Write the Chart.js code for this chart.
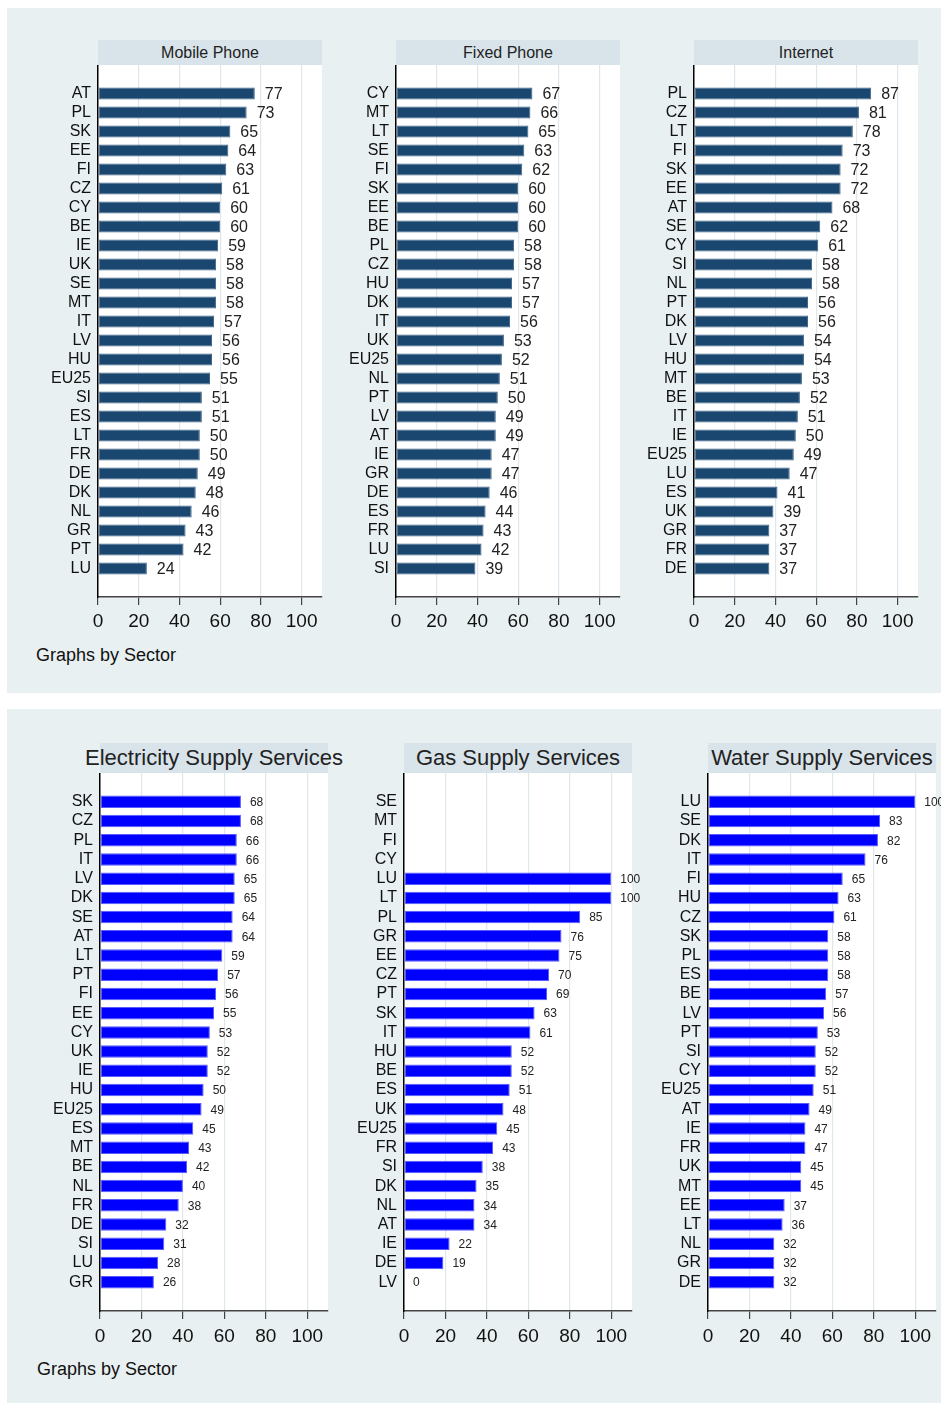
<!DOCTYPE html>
<html>
<head>
<meta charset="utf-8">
<script src="https://cdn.jsdelivr.net/npm/chart.js@4.4.1/dist/chart.umd.min.js"></script>
<style>
  body { margin: 0; width: 941px; height: 1403px; overflow: hidden; background: #fff; position: relative;
         font-family: "Liberation Sans", Arial, sans-serif; }
  .panel { position: absolute; left: 7px; width: 940px; background: #e9f0f2; }
  .head { position: absolute; background: #d9e4ea; color: #222; display: flex; justify-content: center;
          align-items: center; white-space: nowrap; }
  .foot { position: absolute; font-size: 18px; line-height: 18px; color: #111; }
  canvas { position: absolute; }
</style>
</head>
<body>
<div class="panel" style="top:8px;height:685px"></div>
<div class="panel" style="top:709px;height:694px"></div>

<div class="head" style="left:98px;top:40px;width:224px;height:25px;font-size:16px">Mobile Phone</div>
<div class="head" style="left:396px;top:40px;width:224px;height:25px;font-size:16px">Fixed Phone</div>
<div class="head" style="left:694px;top:40px;width:224px;height:25px;font-size:16px">Internet</div>
<div class="head" style="left:100px;top:743px;width:228px;height:30px;font-size:22px">Electricity Supply Services</div>
<div class="head" style="left:404px;top:743px;width:228px;height:30px;font-size:22px">Gas Supply Services</div>
<div class="head" style="left:708px;top:743px;width:228px;height:30px;font-size:22px">Water Supply Services</div>

<canvas id="mobile"></canvas>
<canvas id="fixed"></canvas>
<canvas id="internet"></canvas>
<canvas id="electricity"></canvas>
<canvas id="gas"></canvas>
<canvas id="water"></canvas>

<div class="foot" style="left:36px;top:646px">Graphs by Sector</div>
<div class="foot" style="left:37px;top:1360px">Graphs by Sector</div>

<script>
// data (top to bottom)
const mobileCountries = ['AT','PL','SK','EE','FI','CZ','CY','BE','IE','UK','SE','MT','IT','LV','HU','EU25','SI','ES','LT','FR','DE','DK','NL','GR','PT','LU'];
const mobileValues = [77,73,65,64,63,61,60,60,59,58,58,58,57,56,56,55,51,51,50,50,49,48,46,43,42,24];

const fixedCountries = ['CY','MT','LT','SE','FI','SK','EE','BE','PL','CZ','HU','DK','IT','UK','EU25','NL','PT','LV','AT','IE','GR','DE','ES','FR','LU','SI'];
const fixedValues = [67,66,65,63,62,60,60,60,58,58,57,57,56,53,52,51,50,49,49,47,47,46,44,43,42,39];

const internetCountries = ['PL','CZ','LT','FI','SK','EE','AT','SE','CY','SI','NL','PT','DK','LV','HU','MT','BE','IT','IE','EU25','LU','ES','UK','GR','FR','DE'];
const internetValues = [87,81,78,73,72,72,68,62,61,58,58,56,56,54,54,53,52,51,50,49,47,41,39,37,37,37];

const electricityCountries = ['SK','CZ','PL','IT','LV','DK','SE','AT','LT','PT','FI','EE','CY','UK','IE','HU','EU25','ES','MT','BE','NL','FR','DE','SI','LU','GR'];
const electricityValues = [68,68,66,66,65,65,64,64,59,57,56,55,53,52,52,50,49,45,43,42,40,38,32,31,28,26];

const gasCountries = ['SE','MT','FI','CY','LU','LT','PL','GR','EE','CZ','PT','SK','IT','HU','BE','ES','UK','EU25','FR','SI','DK','NL','AT','IE','DE','LV'];
const gasValues = [null,null,null,null,100,100,85,76,75,70,69,63,61,52,52,51,48,45,43,38,35,34,34,22,19,0];

const waterCountries = ['LU','SE','DK','IT','FI','HU','CZ','SK','PL','ES','BE','LV','PT','SI','CY','EU25','AT','IE','FR','UK','MT','EE','LT','NL','GR','DE'];
const waterValues = [100,83,82,76,65,63,61,58,58,58,57,56,53,52,52,51,49,47,47,45,45,37,36,32,32,32];

const xTicks = [0, 20, 40, 60, 80, 100];

const LABEL_W = 70;
const AXIS_H = 40;
const PAD_R = 40;
const FONT = '"Liberation Sans", Arial, sans-serif';

Chart.defaults.font.family = FONT;

const plotBg = {
  id: 'plotBg',
  beforeDraw(chart) {
    const a = chart.chartArea;
    chart.ctx.save();
    chart.ctx.fillStyle = '#fff';
    chart.ctx.fillRect(a.left, a.top, a.right - a.left, a.bottom - a.top);
    chart.ctx.restore();
  }
};

const valueLabels = {
  id: 'valueLabels',
  afterDatasetsDraw(chart, args, opts) {
    const ctx = chart.ctx;
    const vals = chart.data.datasets[0].data;
    ctx.save();
    ctx.font = opts.size + 'px ' + FONT;
    ctx.fillStyle = '#222';
    ctx.textAlign = 'left';
    ctx.textBaseline = 'middle';
    chart.getDatasetMeta(0).data.forEach((bar, i) => {
      if (vals[i] == null) return;
      ctx.fillText(vals[i], bar.x + opts.gap, bar.y + 1);
    });
    ctx.restore();
  }
};

function noPad(s) {
  s.paddingTop = 0;
  s.paddingBottom = 0;
  s.paddingLeft = 0;
  s.paddingRight = 0;
}

function makeChart(id, box, countries, values, look) {
  const cv = document.getElementById(id);
  cv.width = LABEL_W + box.w + PAD_R;
  cv.height = box.h + AXIS_H;
  cv.style.left = (box.x - LABEL_W) + 'px';
  cv.style.top = box.y + 'px';

  // one empty slot at each end gives the gap Stata leaves above and below
  return new Chart(cv, {
    type: 'bar',
    data: {
      labels: ['', ...countries, ''],
      datasets: [{
        data: [null, ...values, null],
        backgroundColor: look.bar,
        borderColor: look.edge,
        borderWidth: 1,
        borderSkipped: false,
        barPercentage: look.bp,
        categoryPercentage: 1
      }]
    },
    options: {
      indexAxis: 'y',
      responsive: false,
      animation: false,
      layout: { autoPadding: false, padding: { left: 0, top: 0, bottom: 0, right: PAD_R } },
      plugins: {
        legend: { display: false },
        tooltip: { enabled: false },
        valueLabels: { size: look.valSize, gap: look.gap }
      },
      scales: {
        x: {
          min: 0,
          max: 110,
          afterBuildTicks: s => { s.ticks = xTicks.map(v => ({ value: v })); },
          afterFit: s => { s.height = AXIS_H; noPad(s); },
          ticks: { font: { size: 19 }, color: '#111', padding: look.tickPad, maxRotation: 0 },
          grid: { color: '#dde7ec', lineWidth: 1.2, tickColor: '#444', tickLength: 8 },
          border: { color: '#444', width: 1.5 }
        },
        y: {
          afterFit: s => { s.width = LABEL_W; noPad(s); },
          ticks: { font: { size: 16 }, color: '#111', padding: 7, autoSkip: false },
          grid: { color: 'rgba(0,0,0,0)', drawTicks: false },
          border: { color: '#000', width: 1.5 }
        }
      }
    },
    plugins: [plotBg, valueLabels]
  });
}

const topLook = { bar: '#1a476f', edge: '#3f6489', bp: 0.62, valSize: 16, gap: 10, tickPad: 5 };
const bottomLook = { bar: '#0000ff', edge: '#5a5aff', bp: 0.65, valSize: 12, gap: 9, tickPad: 6 };

makeChart('mobile', { x: 98, y: 65, w: 224, h: 532 }, mobileCountries, mobileValues, topLook);
makeChart('fixed', { x: 396, y: 65, w: 224, h: 532 }, fixedCountries, fixedValues, topLook);
makeChart('internet', { x: 694, y: 65, w: 224, h: 532 }, internetCountries, internetValues, topLook);

makeChart('electricity', { x: 100, y: 773, w: 228, h: 538 }, electricityCountries, electricityValues, bottomLook);
makeChart('gas', { x: 404, y: 773, w: 228, h: 538 }, gasCountries, gasValues, bottomLook);
makeChart('water', { x: 708, y: 773, w: 228, h: 538 }, waterCountries, waterValues, bottomLook);
</script>
</body>
</html>
